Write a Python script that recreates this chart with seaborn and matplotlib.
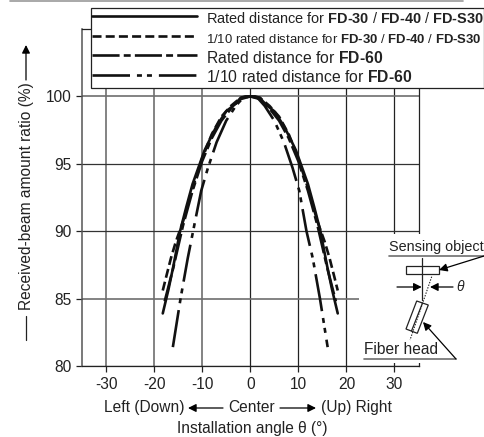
import matplotlib
matplotlib.use('Agg')
import matplotlib.pyplot as plt
from matplotlib.patches import Polygon, Rectangle
import pandas as pd
import seaborn as sns

# Values
angle_rated_30 = [-18.2, -17, -16, -14.6, -13.3, -12, -10.5, -9.5, -8, -7, -5, -3.2, -2, -1, 0, 1, 2, 3.2, 5, 7, 8, 9.5, 10.5, 12, 13.3, 14.6, 16, 17, 18.2]
ratio_rated_30 = [83.9, 85.7, 87.4, 90, 91.8, 93.5, 95, 96, 97.1, 97.8, 98.9, 99.4, 99.9, 100, 100, 100, 99.9, 99.4, 98.9, 97.8, 97.1, 96, 95, 93.5, 91.8, 90, 87.4, 85.7, 83.9]

angle_tenth_30 = [-18.2, -17.5, -16.5, -15.5, -14, -12, -10, -8, -6, -4, -2, 0, 2, 4, 6, 8, 10, 12, 14, 15.5, 16.5, 17.5, 18.2]
ratio_tenth_30 = [85.6, 86.6, 88, 89.2, 90.7, 93.2, 95.4, 97.2, 98.5, 99.3, 99.9, 100, 99.9, 99.3, 98.5, 97.2, 95.4, 93.2, 90.7, 89.2, 88, 86.6, 85.6]

angle_rated_60 = [-17.8, -16, -14, -12, -10, -8, -6, -4, -2, 0, 2, 4, 6, 8, 10, 12, 14, 16, 17.8]
ratio_rated_60 = [84.8, 87.3, 90.4, 93, 95.2, 96.9, 98.2, 99.1, 99.8, 100, 99.8, 99.1, 98.2, 96.9, 95.2, 93, 90.4, 87.3, 84.8]

angle_tenth_60 = [-16.1, -14.5, -13, -11.5, -10.2, -8.8, -7, -5, -3, -1.5, 0, 1.5, 3, 5, 7, 8.8, 10.2, 11.7, 13, 14.5, 16.1]
ratio_tenth_60 = [81.4, 85, 88, 90.7, 93, 94.7, 96.6, 98.2, 99.3, 99.9, 100, 99.9, 99.3, 98.2, 96.6, 94.7, 93, 90, 88, 85, 81.4]

label_rated_30 = 'Rated distance for $\\mathbf{FD\u201030}$ / $\\mathbf{FD\u201040}$ / $\\mathbf{FD\u2010S30}$'
label_tenth_30 = '1/10 rated distance for $\\mathbf{FD\u201030}$ / $\\mathbf{FD\u201040}$ / $\\mathbf{FD\u2010S30}$'
label_rated_60 = 'Rated distance for $\\mathbf{FD\u201060}$'
label_tenth_60 = '1/10 rated distance for $\\mathbf{FD\u201060}$'

x_ticks = [-30, -20, -10, 0, 10, 20, 30]
y_ticks = [80, 85, 90, 95, 100]

# Long table for seaborn
frames = []
for name, xs, ys in [(label_rated_30, angle_rated_30, ratio_rated_30),
                     (label_tenth_30, angle_tenth_30, ratio_tenth_30),
                     (label_rated_60, angle_rated_60, ratio_rated_60),
                     (label_tenth_60, angle_tenth_60, ratio_tenth_60)]:
    frames.append(pd.DataFrame({'angle': xs, 'ratio': ys, 'series': name}))
df = pd.concat(frames, ignore_index=True)

sns.set_theme(style='white')
plt.rcParams['font.family'] = ['Liberation Sans', 'DejaVu Sans']
plt.rcParams['mathtext.fontset'] = 'custom'
plt.rcParams['mathtext.rm'] = 'Liberation Sans'
plt.rcParams['mathtext.bf'] = 'Liberation Sans:bold'
plt.rcParams['mathtext.it'] = 'Liberation Sans:italic'
plt.rcParams['lines.scale_dashes'] = False
plt.rcParams['text.color'] = '#222222'
plt.rcParams['axes.unicode_minus'] = False

W, H = 484, 437
fs = 11.2
fig = plt.figure(figsize=(W / 100, H / 100), dpi=100)
ax = fig.add_axes([82 / W, 1 - 366 / H, (418.5 - 82) / W, (366 - 29) / H])

# Curves
line_styles = {
    label_rated_30: '',
    label_tenth_30: (6.5, 3),
    label_rated_60: (19.5, 3, 5, 3),
    label_tenth_60: (27, 5, 3.6, 3.6, 3.6, 5),
}
palette = {k: '#111111' for k in line_styles}
sns.lineplot(data=df, x='angle', y='ratio', hue='series', style='series',
             dashes=line_styles, palette=palette, linewidth=1.9,
             estimator=None, sort=False, ax=ax, zorder=3)

ax.set_xlim(-35, 35)
ax.set_ylim(80, 105)
ax.set_xticks(x_ticks)
ax.set_yticks(y_ticks)
ax.set_xlabel('')
ax.set_ylabel('')
ax.tick_params(axis='both', length=4.3, width=0.9, color='#222222', labelsize=fs,
               labelcolor='#222222', pad=3.5, left=True, bottom=True)
ax.grid(True, zorder=1)

# Grid lines are not all the same weight in the reference
for tick, line in zip(x_ticks, ax.get_xgridlines()):
    if tick < 0:
        line.set(color='#6e6e6e', linewidth=1.2)
    else:
        line.set(color='#222222', linewidth=0.9)
for tick, line in zip(y_ticks, ax.get_ygridlines()):
    if tick in (85, 100):
        line.set(color='#6e6e6e', linewidth=1.2)
    else:
        line.set(color='#333333', linewidth=0.9)
for side in ax.spines.values():
    side.set_color('#222222')
    side.set_linewidth(0.9)
ax.spines['left'].set_color('#555555')
ax.spines['left'].set_linewidth(1.1)

# Legend runs off the right edge like the original
leg = ax.legend(loc='upper left', bbox_to_anchor=(91 / W, 1 - 8 / H),
                bbox_transform=fig.transFigure, fontsize=10.3, frameon=True,
                fancybox=False, framealpha=1, edgecolor='#222222',
                handlelength=7.35, handletextpad=0.62, borderpad=0.05,
                handleheight=1.74, labelspacing=0, borderaxespad=0, title=None)
leg.get_frame().set_linewidth(0.9)
for text, size in zip(leg.get_texts(), [10.45, 9.45, 11.3, 11.3]):
    text.set_fontsize(size)
leg.set_zorder(10)

# Overlay in pixel units for the notes round the chart
over = fig.add_axes([0, 0, 1, 1], facecolor='none')
over.set_xlim(0, W)
over.set_ylim(H, 0)
over.axis('off')

ink = '#222222'
grey = '#6e6e6e'
over.plot([10, 463], [1, 1], color='#999999', lw=1.2)

# y label with its arrow
arrow = dict(arrowstyle='-|>', color='black', lw=0.9, mutation_scale=12, shrinkA=0, shrinkB=0)
over.text(27, 196, 'Received-beam amount ratio (%)', rotation=90, ha='center', va='center', fontsize=fs)
over.plot([26, 26], [316, 340], color=ink, lw=0.9)
over.annotate('', xy=(26, 45), xytext=(26, 80), arrowprops=arrow)

# x notes
over.text(144, 412, 'Left (Down)', ha='center', va='baseline', fontsize=fs)
over.text(251.5, 412, 'Center', ha='center', va='baseline', fontsize=fs)
over.text(356, 412, '(Up) Right', ha='center', va='baseline', fontsize=fs)
over.text(252, 429, 'Installation angle θ (°)', ha='center', va='center', fontsize=fs)
for start, end in [(223, 188), (280, 316)]:
    over.annotate('', xy=(end, 408), xytext=(start, 408), arrowprops=arrow)

# Sensing diagram on a white patch
over.add_patch(Rectangle((359, 234), 125, 129, facecolor='white', edgecolor='none'))
over.add_patch(Rectangle((347.5, 234), 12, 64, facecolor='white', edgecolor='none'))
over.text(389, 247, 'Sensing object', ha='left', va='center', fontsize=10.4)
over.plot([389, 484], [256, 256], color=grey, lw=1.2)
over.add_patch(Rectangle((405.7, 266), 33.3, 8, facecolor='none', edgecolor=ink, lw=0.9))
over.plot([422.3, 422.3], [258, 300], color=ink, lw=0.9)
over.annotate('', xy=(439, 270), xytext=(484, 256), arrowprops=arrow)
over.plot([431.7, 410], [276.7, 340], color=ink, lw=0.8, ls=(0, (1, 1)))
over.annotate('', xy=(421.7, 287), xytext=(397, 287), arrowprops=arrow)
over.annotate('', xy=(430, 287), xytext=(453, 287), arrowprops=arrow)
over.text(456, 287, 'θ', style='italic', ha='left', va='center', fontsize=10)
over.add_patch(Polygon([(416.7, 301), (428.3, 305), (417.3, 333.3), (406, 329)], closed=True,
                       facecolor='white', edgecolor=ink, lw=0.9))
over.plot([422.5, 411.5], [303, 331], color=ink, lw=0.9)
over.text(364, 350, 'Fiber head', ha='left', va='center', fontsize=fs)
over.plot([364, 456], [359, 359], color=grey, lw=1.2)
over.annotate('', xy=(423, 322), xytext=(456, 359), arrowprops=arrow)

fig.savefig('out.png', dpi=100)
